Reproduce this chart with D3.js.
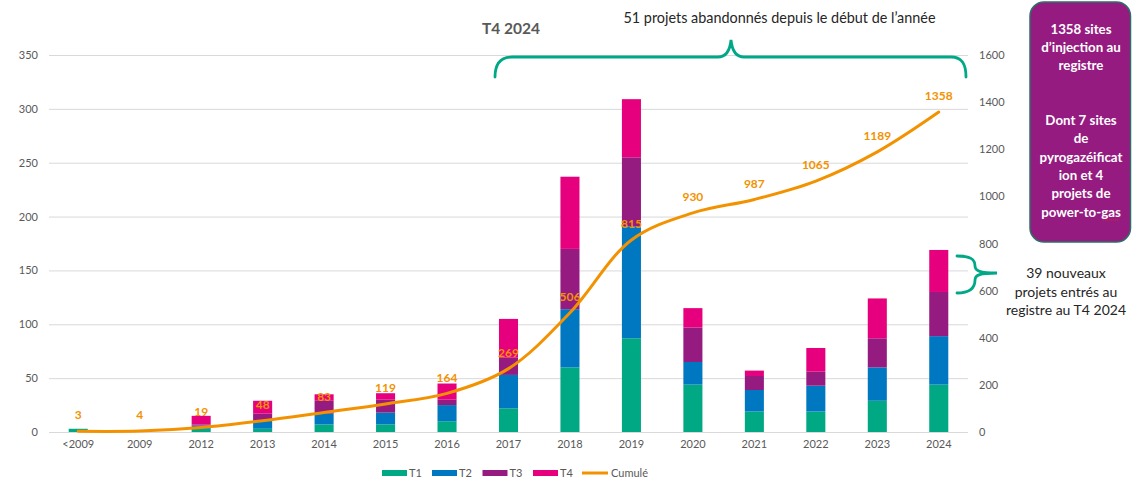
<!DOCTYPE html>
<html><head><meta charset="utf-8">
<script src="https://cdn.jsdelivr.net/npm/d3@7"></script>
<style>
html,body{margin:0;padding:0;background:#fff;}
svg{display:block;font-family:Lato,"Open Sans",sans-serif;}
</style></head>
<body>
<svg id="chart" width="1132" height="479"></svg>
<script>
const categories = ["<2009","2009","2012","2013","2014","2015","2016","2017","2018","2019","2020","2021","2022","2023","2024"];
const t1 = [3,1,3,3,7,7,10,22,60,87,44,19,19,29,44];
const t2 = [0,0,3,8,10,11,15,31,54,104,21,20,24,31,45];
const t3 = [0,0,1,6,12,12,5,16,56,64,32,13,13,27,41];
const t4 = [0,0,8,12,6,6,15,36,67,54,18,5,22,37,39];
const cumul = [3,4,19,48,83,119,164,269,506,815,930,987,1065,1189,1358];
const leftTicks = [0,50,100,150,200,250,300,350];
const rightTicks = [0,200,400,600,800,1000,1200,1400,1600];
const seriesNames = ["T1","T2","T3","T4"];
const colors = ["#00A884","#0078C1","#951B81","#E6007E"];
const lineColor = "#F39200";

const svg = d3.select("#chart");
const x = d3.scaleBand().domain(categories).range([47.5,969.5]).paddingInner(0.69).paddingOuter(0.345);
const yL = d3.scaleLinear().domain([0,350]).range([432,55]);
const yR = d3.scaleLinear().domain([0,1600]).range([432,55]);

// gridlines
svg.append("g").selectAll("line").data(leftTicks).join("line")
  .attr("x1",49).attr("x2",968)
  .attr("y1",d=>yL(d)+0.5).attr("y2",d=>yL(d)+0.5)
  .attr("stroke","#D9D9D9").attr("stroke-width",1);

// left axis
const axL = d3.axisLeft(yL).tickValues(leftTicks).tickFormat(d3.format("d")).tickSize(0).tickPadding(0);
const gL = svg.append("g").attr("transform","translate(38,0)").call(axL);
gL.select(".domain").remove();
gL.selectAll("text").attr("fill","#595959").style("font-size","11px").style("font-family","Lato");

// right axis
const axR = d3.axisRight(yR).tickValues(rightTicks).tickFormat(d3.format("d")).tickSize(0).tickPadding(0);
const gR = svg.append("g").attr("transform","translate(979,0)").call(axR);
gR.select(".domain").remove();
gR.selectAll("text").attr("fill","#595959").style("font-size","11px").style("font-family","Lato");

// bottom axis
const axB = d3.axisBottom(x).tickSize(0).tickPadding(0);
const gB = svg.append("g").attr("transform","translate(0,440)").call(axB);
gB.select(".domain").remove();
gB.selectAll("text").attr("fill","#595959").style("font-size","11px").style("font-family","Lato").attr("dy","0.71em");

// stacked bars
const rows = categories.map((c,i)=>({cat:c,T1:t1[i],T2:t2[i],T3:t3[i],T4:t4[i]}));
const stack = d3.stack().keys(seriesNames)(rows);
svg.append("g").selectAll("g").data(stack).join("g")
  .attr("fill",(d,i)=>colors[i])
  .selectAll("rect").data(d=>d).join("rect")
  .attr("x",d=>x(d.data.cat))
  .attr("width",x.bandwidth())
  .attr("y",d=>yL(d[1]))
  .attr("height",d=>Math.max(0,yL(d[0])-yL(d[1])));

// cumulative line
const line = d3.line()
  .x((d,i)=>x(categories[i])+x.bandwidth()/2)
  .y(d=>yR(d))
  .curve(d3.curveCatmullRom.alpha(0.5));
svg.append("path").datum(cumul).attr("d",line)
  .attr("fill","none").attr("stroke",lineColor).attr("stroke-width",3)
  .attr("stroke-linejoin","round").attr("stroke-linecap","round");

// labels
svg.append("g").selectAll("text").data(cumul).join("text")
  .attr("x",(d,i)=>x(categories[i])+x.bandwidth()/2)
  .attr("y",d=>yR(d)-16)
  .attr("dy","0.35em")
  .attr("text-anchor","middle")
  .attr("fill",lineColor)
  .style("font-size","12px").style("font-weight","bold")
  .text(d=>d);

// legend
const legendItems = [
  {name:"T1",type:"rect",color:colors[0],x:382},
  {name:"T2",type:"rect",color:colors[1],x:432},
  {name:"T3",type:"rect",color:colors[2],x:482.5},
  {name:"T4",type:"rect",color:colors[3],x:533},
  {name:"Cumulé",type:"line",color:lineColor,x:582}
];
const lg = svg.append("g");
legendItems.forEach(it=>{
  if(it.type==="rect"){
    lg.append("rect").attr("x",it.x).attr("y",470).attr("width",25).attr("height",6).attr("fill",it.color);
  } else {
    lg.append("line").attr("x1",it.x).attr("x2",it.x+26).attr("y1",473).attr("y2",473)
      .attr("stroke",it.color).attr("stroke-width",3);
  }
  lg.append("text").attr("x",it.x+(it.type==="rect"?27:29)).attr("y",473).attr("dy","0.35em")
    .attr("fill","#595959").style("font-size","11px").text(it.name);
});

// title
svg.append("text").attr("x",511).attr("y",29).attr("dy","0.35em").attr("text-anchor","middle")
  .attr("fill","#595959").style("font-size","15.5px").style("font-weight","bold").text("T4 2024");

// annotation top
svg.append("text").attr("x",779.5).attr("y",18).attr("dy","0.35em").attr("text-anchor","middle")
  .attr("fill","#262626").style("font-size","14.4px").text("51 projets abandonnés depuis le début de l’année");

const teal = "#00A887";
svg.append("path")
  .attr("d","M495,77 C495,64 500,57 512,57 L718,57 C726,57 730,50 731,40 C732,50 736,57 744,57 L951,57 C962,57 966,64 966,77")
  .attr("fill","none").attr("stroke",teal).attr("stroke-width",2.8).attr("stroke-linecap","round");

svg.append("path")
  .attr("d","M957,256 C970,256 975,259 975,266 C975,271 980,273 997,273 C980,273 975,275 975,280 C975,288 970,293 957,293")
  .attr("fill","none").attr("stroke",teal).attr("stroke-width",2.8).attr("stroke-linecap","round");

// right text
const rt = svg.append("text").attr("text-anchor","middle").attr("fill","#262626").style("font-size","14px");
["39 nouveaux","projets entrés au","registre au T4 2024"].forEach((s,i)=>{
  rt.append("tspan").attr("x",1066).attr("y",273+i*18.7).attr("dy","0.35em").text(s);
});

// box
svg.append("rect").attr("x",1030).attr("y",2).attr("width",100.5).attr("height",240).attr("rx",14)
  .attr("fill","#951B81").attr("stroke","#2F6E68").attr("stroke-width",1.5);
const boxLines = ["1358 sites","d’injection au","registre","","","Dont 7 sites","de","pyrogazéificat","ion et 4","projets de","power-to-gas"];
const bt = svg.append("text").attr("text-anchor","middle").attr("fill","#fff").style("font-size","13.3px").style("font-weight","bold");
boxLines.forEach((s,i)=>{
  bt.append("tspan").attr("x",1081).attr("y",29+i*18.3).attr("dy","0.35em").text(s||" ");
});
// spellcheck squiggle under "gas"
svg.append("line").attr("x1",1103).attr("x2",1118).attr("y1",220).attr("y2",220)
  .attr("stroke","#E02020").attr("stroke-width",1).attr("stroke-dasharray","1,1");
</script>
</body></html>
